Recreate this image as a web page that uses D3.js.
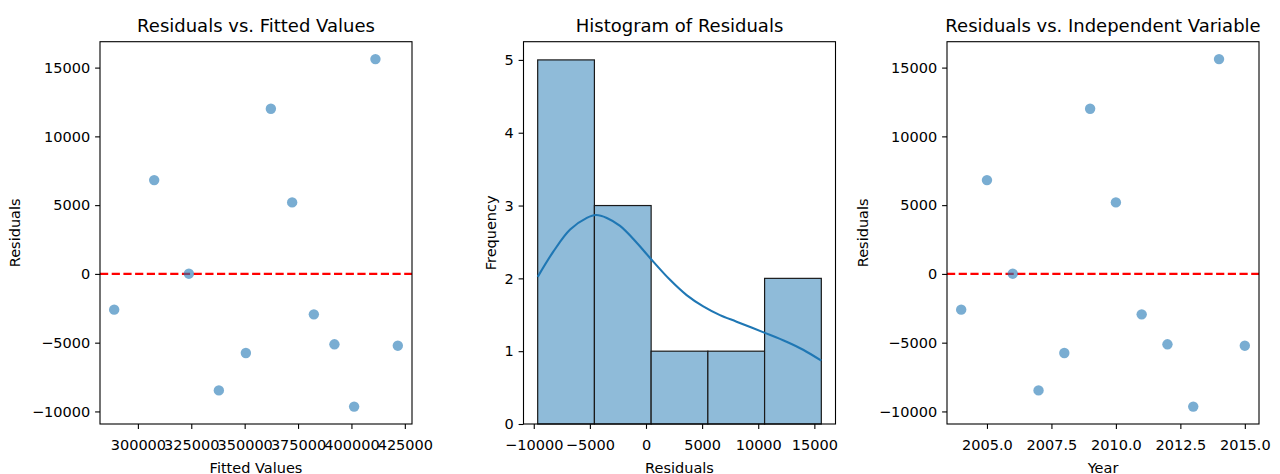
<!DOCTYPE html>
<html>
<head>
<meta charset="utf-8">
<script src="https://cdn.jsdelivr.net/npm/d3@7"></script>
<style>
  html, body { margin: 0; padding: 0; background: #fff; }
  svg { display: block; font-family: 'DejaVu Sans', sans-serif; }
</style>
</head>
<body>
<svg width="1280" height="474"></svg>
<script>
// ////////////////////////////////////////////////////////////// data //

const years = [2004, 2005, 2006, 2007, 2008, 2009, 2010, 2011, 2012, 2013, 2014, 2015];
const fitted = [288900, 307630, 323880, 337920, 350560, 362270,
  372240, 382400, 392040, 401260, 411240, 421720];
const residuals = [-2600, 6820, 15, -8470, -5750, 12010,
  5200, -2940, -5120, -9650, 15620, -5220];

// kde curve
const kdeX = [-9650, -8245, -6760, -5270, -4450, -3490, -2310, -825, 360,
  2140, 3620, 5100, 6590, 8070, 10530, 12520, 14000, 15620];
const kdeY = [2.02, 2.37, 2.67, 2.83, 2.87, 2.83, 2.72, 2.49, 2.28,
  1.98, 1.77, 1.615, 1.495, 1.405, 1.255, 1.13, 1.02, 0.87];

const residTicks = [-10000, -5000, 0, 5000, 10000, 15000];
const fittedTicks = [300000, 325000, 350000, 375000, 400000, 425000];
const freqTicks = [0, 1, 2, 3, 4, 5];
const yearTicks = [2005, 2007.5, 2010, 2012.5, 2015];
const nBins = 5;

// ////////////////////////////////////////////////////////////// layout //

const plotTop = 41.7;
const plotBottom = 424;
const panelW = 312;
const lefts = [100, 523.5, 947];
const C0 = '#1f77b4';
const tickFont = 14.5;

const svg = d3.select('svg');

// matplotlib style 5% padding around the data
const padded = (vals) => {
  const [lo, hi] = d3.extent(vals);
  const m = (hi - lo) * 0.05;
  return [lo - m, hi + m];
};

const styleAxis = (g) => {
  g.select('.domain').remove();
  g.selectAll('.tick line').attr('stroke', '#000').attr('stroke-width', 1.1);
  g.selectAll('.tick text')
      .attr('fill', '#000')
      .style('font-size', tickFont + 'px')
      .style('font-family', 'DejaVu Sans');
};

const makePanel = (i, xDomain, yDomain, xTicks, yTicks, xFmt, yFmt) => {
  const left = lefts[i];
  const x = d3.scaleLinear().domain(xDomain).range([left, left + panelW]);
  const y = d3.scaleLinear().domain(yDomain).range([plotBottom, plotTop]);
  const g = svg.append('g').classed('panel-' + i, true);

  g.append('g')
      .attr('transform', `translate(0,${plotBottom})`)
      .call(d3.axisBottom(x).tickValues(xTicks).tickFormat(xFmt)
          .tickSize(4.9).tickPadding(10.6))
      .call(styleAxis);

  g.append('g')
      .attr('transform', `translate(${left},0)`)
      .call(d3.axisLeft(y).tickValues(yTicks).tickFormat(yFmt)
          .tickSize(4.9).tickPadding(4.9))
      .call(styleAxis);

  return {g, x, y, left};
};

const addFrame = (p) => {
  p.g.append('rect')
      .attr('x', p.left)
      .attr('y', plotTop)
      .attr('width', panelW)
      .attr('height', plotBottom - plotTop)
      .attr('fill', 'none')
      .attr('stroke', '#000')
      .attr('stroke-width', 1.1);
};

const addLabels = (p, title, xLabel, yLabel, yLabelX) => {
  const cx = p.left + panelW / 2;
  p.g.append('text')
      .attr('x', cx)
      .attr('y', 32)
      .attr('text-anchor', 'middle')
      .style('font-size', '18px')
      .text(title);
  p.g.append('text')
      .attr('x', cx)
      .attr('y', 472.5)
      .attr('text-anchor', 'middle')
      .style('font-size', tickFont + 'px')
      .text(xLabel);
  p.g.append('text')
      .attr('transform', `translate(${yLabelX},${(plotTop + plotBottom) / 2}) rotate(-90)`)
      .attr('text-anchor', 'middle')
      .style('font-size', tickFont + 'px')
      .text(yLabel);
};

const scatterPanel = (p, xs) => {
  p.g.append('line')
      .attr('x1', p.left)
      .attr('x2', p.left + panelW)
      .attr('y1', p.y(0))
      .attr('y2', p.y(0))
      .attr('stroke', '#ff0000')
      .attr('stroke-width', 2.2)
      .attr('stroke-dasharray', '8.2,3.5');

  p.g.selectAll('.dot')
      .data(residuals)
      .enter()
      .append('circle')
      .classed('dot', true)
      .attr('cx', (d, i) => p.x(xs[i]))
      .attr('cy', (d) => p.y(d))
      .attr('r', 5.2)
      .style('fill', C0)
      .style('opacity', 0.6);
};

const fmtInt = d3.format('d');
const residDomain = padded(residuals);

// 1. residuals vs fitted
// ----------------------------------
const p1 = makePanel(0, padded(fitted), residDomain, fittedTicks, residTicks, fmtInt, fmtInt);
scatterPanel(p1, fitted);
addFrame(p1);
addLabels(p1, 'Residuals vs. Fitted Values', 'Fitted Values', 'Residuals', 19.5);

// 2. histogram
// ----------------------------------
const p2 = makePanel(1, residDomain, [0, 5.25], residTicks, freqTicks, fmtInt, fmtInt);
const [rMin, rMax] = d3.extent(residuals);
const bins = d3.bin()
    .domain([rMin, rMax])
    .thresholds(d3.range(1, nBins).map((k) => rMin + k * (rMax - rMin) / nBins))(residuals);

p2.g.selectAll('.bar')
    .data(bins)
    .enter()
    .append('rect')
    .classed('bar', true)
    .attr('x', (d) => p2.x(d.x0))
    .attr('y', (d) => p2.y(d.length))
    .attr('width', (d) => p2.x(d.x1) - p2.x(d.x0))
    .attr('height', (d) => p2.y(0) - p2.y(d.length))
    .style('fill', '#8fbbd9')
    .style('stroke', '#1a1a1a')
    .style('stroke-width', 1.2);

const kdeLine = d3.line()
    .x((d) => p2.x(d[0]))
    .y((d) => p2.y(d[1]))
    .curve(d3.curveCatmullRom);

p2.g.append('path')
    .datum(d3.zip(kdeX, kdeY))
    .attr('d', kdeLine)
    .attr('fill', 'none')
    .attr('stroke', C0)
    .attr('stroke-width', 2.1);

addFrame(p2);
addLabels(p2, 'Histogram of Residuals', 'Residuals', 'Frequency', 496);

// 3. residuals vs year
// ----------------------------------
const p3 = makePanel(2, padded(years), residDomain, yearTicks, residTicks, d3.format('.1f'), fmtInt);
scatterPanel(p3, years);
addFrame(p3);
addLabels(p3, 'Residuals vs. Independent Variable', 'Year', 'Residuals', 867.5);
</script>
</body>
</html>
